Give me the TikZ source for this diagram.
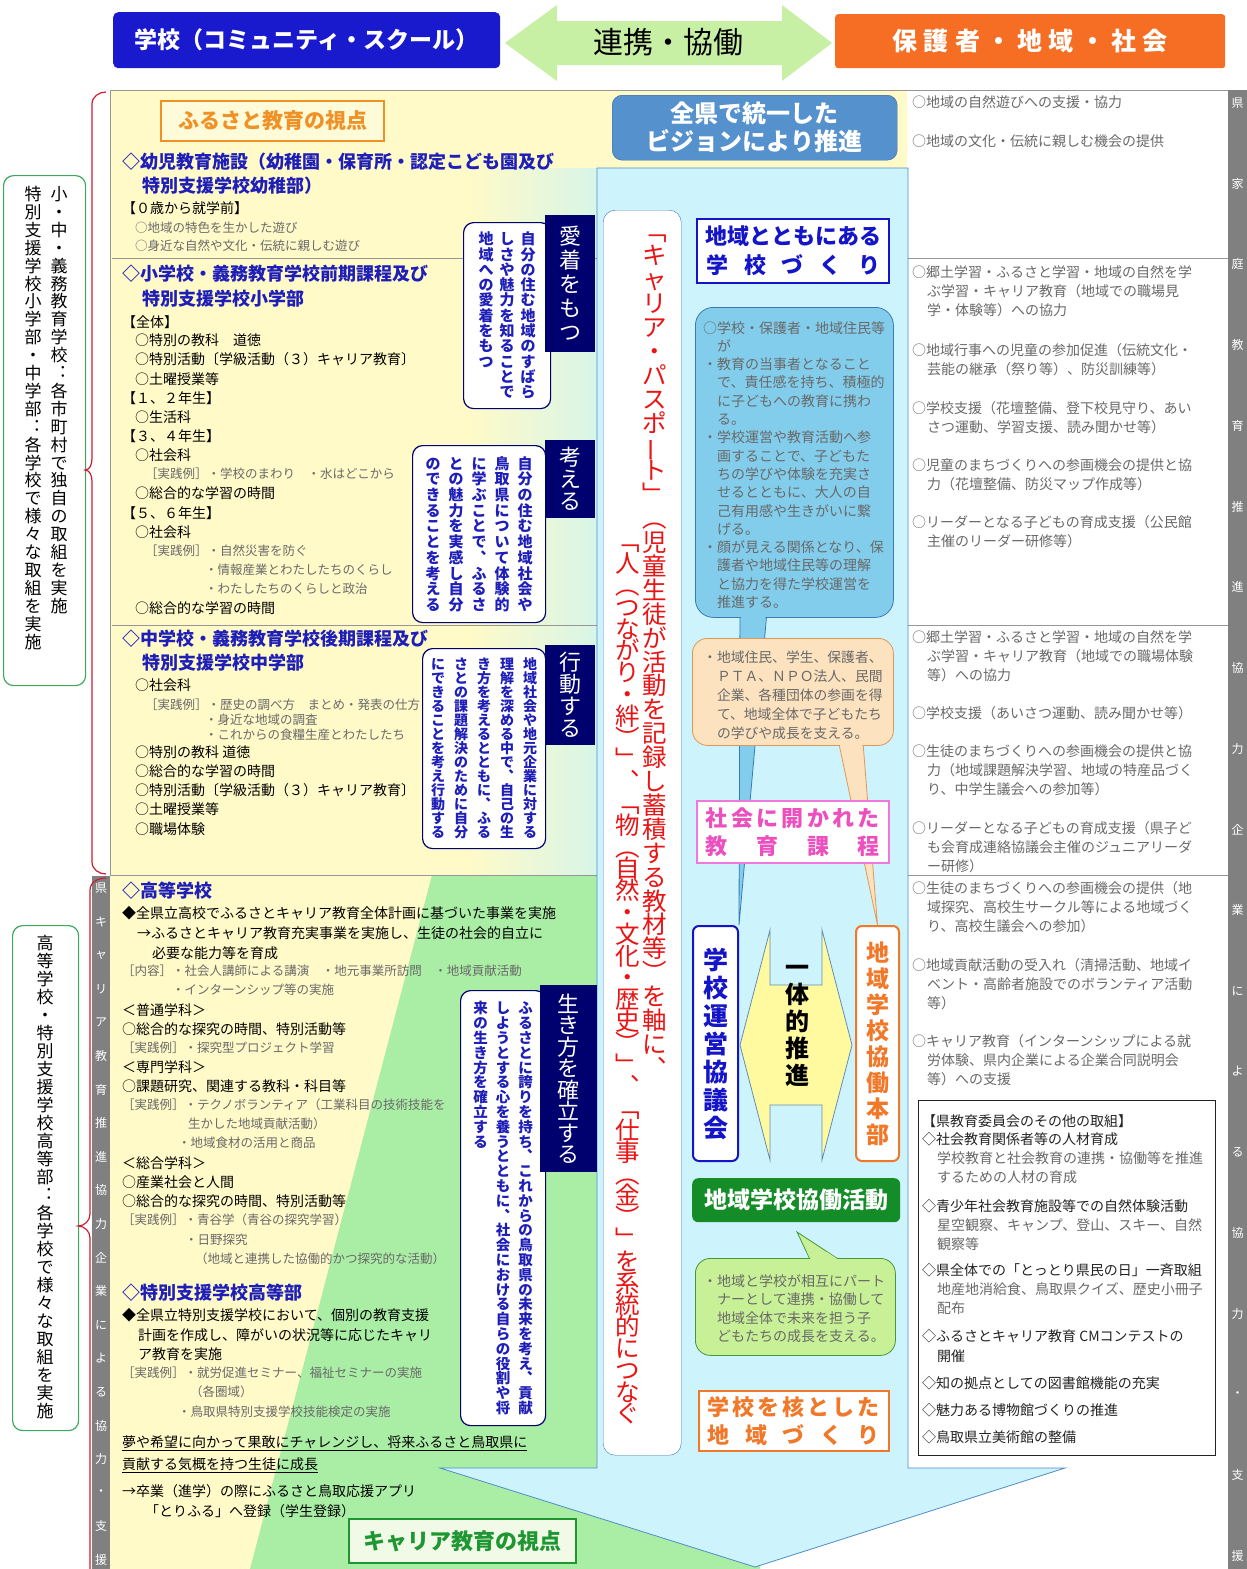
\documentclass[tikz,border=0pt]{standalone}
\usepackage{fontspec}
\setmainfont{Noto Sans CJK JP}
\usepackage{graphicx}
\definecolor{ybg}{RGB}{255,250,200}
\definecolor{cbg}{RGB}{215,245,232}
\definecolor{gbg}{RGB}{170,238,165}
\definecolor{cyanA}{RGB}{205,244,252}
\definecolor{cyanL}{RGB}{80,140,200}
\definecolor{topblue}{RGB}{25,25,205}
\definecolor{toporange}{RGB}{245,110,35}
\definecolor{arrgreen}{RGB}{200,240,165}
\definecolor{navy}{RGB}{0,0,110}
\definecolor{hblue}{RGB}{30,30,185}
\definecolor{steel}{RGB}{85,145,205}
\definecolor{steelD}{RGB}{55,100,160}
\definecolor{bubB}{RGB}{130,205,235}
\definecolor{bubBd}{RGB}{60,120,180}
\definecolor{bubO}{RGB}{252,226,190}
\definecolor{bubOd}{RGB}{225,150,90}
\definecolor{pinkD}{RGB}{240,120,220}
\definecolor{pinkT}{RGB}{235,80,190}
\definecolor{dgreen}{RGB}{20,140,40}
\definecolor{bubG}{RGB}{200,240,150}
\definecolor{bubGd}{RGB}{70,150,60}
\definecolor{orgD}{RGB}{240,120,40}
\definecolor{orgL}{RGB}{240,145,40}
\definecolor{redT}{RGB}{235,20,20}
\definecolor{grayT}{RGB}{105,105,105}
\definecolor{darkT}{RGB}{35,35,35}
\definecolor{strip}{RGB}{128,128,128}
\definecolor{gboxD}{RGB}{60,170,90}
\definecolor{gtxt}{RGB}{30,150,50}
\definecolor{brk}{RGB}{200,30,50}
\definecolor{sepL}{RGB}{150,150,150}
\definecolor{boxblue}{RGB}{20,20,200}
\makeatletter
\newdimen\vcw
\newcommand\vtxt[2]{\vtop{\baselineskip=#1\relax\lineskiplimit=-\maxdimen\lineskip=0pt\vcw=1em\relax\vt@x#2\relax}}
\def\vt@x#1{\ifx\relax#1\else\hbox to\vcw{\hss#1\hss}\expandafter\vt@x\fi}
\makeatother
\newcommand\VL{\rotatebox[origin=c]{90}{ー}}
\newcount\tlc
\newcommand\TL[4]{\global\advance\tlc by1\relax\node[#1] (t\the\tlc) at (#2,#3) {#4};}
\begin{document}
\begin{tikzpicture}[x=1pt,y=-1pt,
 tx/.style={anchor=west,inner sep=0pt,text=black,font=\fontsize{14}{16}\selectfont},
 gr/.style={tx,text=grayT,font=\fontsize{12.5}{15}\selectfont},
 hd/.style={tx,text=hblue,font=\fontsize{18}{21}\selectfont\bfseries},
 rc/.style={tx,text=grayT,font=\fontsize{14}{16}\selectfont},
 dk/.style={tx,text=darkT,font=\fontsize{14}{16}\selectfont},
 vt/.style={inner sep=0pt,anchor=north},
 tab/.style={fill=navy,inner sep=0pt,anchor=north west,text=white,font=\fontsize{22}{24}\selectfont},
 wbox/.style={draw=navy,line width=1.2pt,fill=white,rounded corners=10pt,inner sep=0pt,anchor=north west,text=hblue},
 gbox/.style={draw=gboxD,line width=1.2pt,fill=white,rounded corners=10pt,inner sep=0pt,anchor=north west},
 gtx/.style={inner sep=0pt,anchor=north,font=\fontsize{17}{17}\selectfont},
 gstr/.style={inner sep=0pt,text=white,font=\fontsize{12}{14}\selectfont},
 sep/.style={sepL,line width=0.8pt}]
\useasboundingbox (0,0) rectangle (1247,1569);
\fill[white] (0,0) rectangle (1247,1569);
% backgrounds
\fill[ybg] (110,90) rectangle (907,875);
\shade[left color=ybg,right color=cbg] (470,168) rectangle (600,875);
\fill[ybg] (110,875) rectangle (600,1569);
\fill[gbg] (432,875) -- (760,875) -- (760,1569) -- (250,1569) -- cycle;
% separators
\draw[sep] (110,90) -- (1228,90);
\draw[sep] (110,90) -- (110,875);
\draw[sep] (112,258) -- (600,258) (907,258) -- (1228,258);
\draw[sep] (112,625) -- (600,625) (907,625) -- (1228,625);
\draw[sep] (110,875) -- (600,875) (907,875) -- (1228,875);
% grey strips
\fill[strip] (92,876) rectangle (110,1569);
\fill[strip] (1228,90) rectangle (1247,1569);
\foreach \c [count=\i from 0] in {県,キ,ャ,リ,ア,教,育,推,進,協,力,企,業,に,よ,る,協,力,・,支,援}
  \node[gstr] (gl\i) at (101,888+\i*33.6) {\c};
\foreach \c [count=\i from 0] in {県,家,庭,教,育,推,進,協,力,企,業,に,よ,る,協,力,・,支,援}
  \node[gstr] (gr\i) at (1237.5,103+\i*80.7) {\c};
% top row
\node[fill=topblue,rounded corners=5pt,minimum width=387pt,minimum height=56pt,anchor=north west,inner sep=0pt,text=white,font=\fontsize{23}{26}\selectfont\bfseries] (school) at (113,12) {学校（コミュニティ・スクール）};
\node[fill=toporange,rounded corners=3pt,minimum width=390pt,minimum height=54pt,anchor=north west,inner sep=0pt,text=white,font=\fontsize{25}{28}\selectfont\bfseries\addfontfeature{LetterSpace=25}] (society) at (835,14) {保護者・地域・社会};
\fill[arrgreen] (505,43) -- (557,5) -- (557,21) -- (782,21) -- (782,5) -- (832,43) -- (782,81) -- (782,65) -- (557,65) -- (557,81) -- cycle;
\node[inner sep=0pt,font=\fontsize{30}{32}\selectfont] (renkei) at (668,42) {連携・協働};
% central arrow
\draw[cyanL,fill=cyanA,line width=0.8pt] (597,168) -- (908,168) -- (908,1468) -- (1065,1468) -- (755,1567) -- (440,1468) -- (597,1468) -- cycle;
% left brackets and green boxes
\node[gbox,minimum width=82pt,minimum height=510pt] (g1) at (3,175) {};
\node[gtx] (g1t) at (46,186) {\hbox{\vtxt{17.9pt}{特別支援学校小学部・中学部︓各学校で様々な取組を実施}\hskip9pt\vtxt{17.9pt}{小・中・義務教育学校︓各市町村で独自の取組を実施}}};
\node[gbox,minimum width=66pt,minimum height=505pt] (g2) at (12,925) {};
\node[gtx] (g2t) at (45,935) {\vtxt{18pt}{高等学校・特別支援学校高等部︓各学校で様々な取組を実施}};
\coordinate (p1) at (85,470);
\coordinate (p2) at (78,1226);
\draw[brk,line width=1.2pt] (106,92) to[out=180,in=90] (92,104) -- (92,458) to[out=270,in=0] (p1) to[out=0,in=90] (92,482) -- (92,862) to[out=270,in=180] (106,874);
\draw[brk,line width=1.2pt] (106,878) to[out=180,in=90] (90,890) -- (90,1214) to[out=270,in=0] (p2) to[out=0,in=90] (90,1238) -- (90,1569);
% left panel heading boxes
\node[draw=orgL,line width=2pt,fill={rgb,255:red,255;green,250;blue,215},minimum width=223pt,minimum height=40pt,anchor=north west,inner sep=0pt,text=orgL,font=\fontsize{21}{23}\selectfont\bfseries] (furu) at (160,100) {ふるさと教育の視点};
\node[draw=gtxt,line width=2pt,fill={rgb,255:red,240;green,250;blue,230},minimum width=227pt,minimum height=44pt,anchor=north west,inner sep=0pt,text=gtxt,font=\fontsize{22}{24}\selectfont\bfseries] (career) at (348,1518) {キャリア教育の視点};
% white boxes with vertical blue text
\node[wbox,minimum width=87pt,minimum height=186pt,font=\fontsize{15}{15}\selectfont\bfseries] (b1) at (463,222) {\hbox{\vtxt{15.3pt}{地域への愛着をもつ}\hskip6pt\vtxt{15.3pt}{しさや魅力を知ることで}\hskip6pt\vtxt{15.3pt}{自分の住む地域のすばら}}};
\node[wbox,minimum width=133pt,minimum height=177pt,font=\fontsize{15}{15}\selectfont\bfseries] (b2) at (412,445) {\hbox{\vtxt{15.7pt}{のできることを考える}\hskip8pt\vtxt{15.7pt}{との魅力を実感し自分}\hskip8pt\vtxt{15.7pt}{に学ぶことで︑ふるさ}\hskip8pt\vtxt{15.7pt}{鳥取県について体験的}\hskip8pt\vtxt{15.7pt}{自分の住む地域社会や}}};
\node[wbox,minimum width=123pt,minimum height=200pt,font=\fontsize{14}{14}\selectfont\bfseries] (b3) at (422,648) {\hbox{\vtxt{14pt}{にできることを考え行動する}\hskip9pt\vtxt{14pt}{さとの課題解決のために自分}\hskip9pt\vtxt{14pt}{き方を考えるとともに︑ふる}\hskip9pt\vtxt{14pt}{理解を深める中で︑自己の生}\hskip9pt\vtxt{14pt}{地域社会や地元企業に対する}}};
\node[wbox,minimum width=85pt,minimum height=435pt,font=\fontsize{14.5}{14.5}\selectfont\bfseries] (b4) at (460,990) {\hbox{\vtxt{14.8pt}{来の生き方を確立する}\hskip8pt\vtxt{14.8pt}{しようとする心を養うとともに︑社会における自らの役割や将}\hskip8pt\vtxt{14.8pt}{ふるさとに誇りを持ち︑これからの鳥取県の未来を考え︑貢献}}};
% navy tabs
\node[tab,minimum width=50pt,minimum height=137pt] (tab1) at (545,215) {\vtxt{24pt}{愛着をもつ}};
\node[tab,minimum width=50pt,minimum height=78pt] (tab2) at (545,440) {\vtxt{22pt}{考える}};
\node[tab,minimum width=50pt,minimum height=100pt] (tab3) at (545,645) {\vtxt{22pt}{行動する}};
\node[tab,minimum width=57pt,minimum height=187pt] (tab4) at (540,985) {\vtxt{21.5pt}{生き方を確立する}};
% left panel texts
\TL{hd}{122}{162}{◇幼児教育施設（幼稚園・保育所・認定こども園及び}
\TL{hd}{142}{186}{特別支援学校幼稚部）}
\TL{tx}{122}{208}{【０歳から就学前】}
\TL{gr}{135}{228}{○地域の特色を生かした遊び}
\TL{gr}{135}{246}{○身近な自然や文化・伝統に親しむ遊び}
\TL{hd}{122}{274}{◇小学校・義務教育学校前期課程及び}
\TL{hd}{142}{299}{特別支援学校小学部}
\TL{tx}{122}{322}{【全体】}
\TL{tx}{135}{340}{○特別の教科　道徳}
\TL{tx}{135}{359}{○特別活動〔学級活動（３）キャリア教育〕}
\TL{tx}{135}{379}{○土曜授業等}
\TL{tx}{122}{398}{【１、２年生】}
\TL{tx}{135}{417}{○生活科}
\TL{tx}{122}{436}{【３、４年生】}
\TL{tx}{135}{455}{○社会科}
\TL{gr}{145}{474}{［実践例］・学校のまわり　・水はどこから}
\TL{tx}{135}{493}{○総合的な学習の時間}
\TL{tx}{122}{513}{【５、６年生】}
\TL{tx}{135}{532}{○社会科}
\TL{gr}{145}{551}{［実践例］・自然災害を防ぐ}
\TL{gr}{205}{570}{・情報産業とわたしたちのくらし}
\TL{gr}{205}{589}{・わたしたちのくらしと政治}
\TL{tx}{135}{608}{○総合的な学習の時間}
\TL{hd}{122}{639}{◇中学校・義務教育学校後期課程及び}
\TL{hd}{142}{663}{特別支援学校中学部}
\TL{tx}{135}{685}{○社会科}
\TL{gr}{145}{705}{［実践例］・歴史の調べ方　まとめ・発表の仕方}
\TL{gr}{205}{720}{・身近な地域の調査}
\TL{gr}{205}{735}{・これからの食糧生産とわたしたち}
\TL{tx}{135}{752}{○特別の教科 道徳}
\TL{tx}{135}{771}{○総合的な学習の時間}
\TL{tx}{135}{790}{○特別活動〔学級活動（３）キャリア教育〕}
\TL{tx}{135}{809}{○土曜授業等}
\TL{tx}{135}{829}{○職場体験}
\TL{hd}{122}{891}{◇高等学校}
\TL{tx}{122}{913}{◆全県立高校でふるさとキャリア教育全体計画に基づいた事業を実施}
\TL{tx}{137}{933}{→ふるさとキャリア教育充実事業を実施し、生徒の社会的自立に}
\TL{tx}{152}{953}{必要な能力等を育成}
\TL{gr}{122}{971}{［内容］・社会人講師による講演　・地元事業所訪問　・地域貢献活動}
\TL{gr}{172}{990}{・インターンシップ等の実施}
\TL{tx}{122}{1010}{＜普通学科＞}
\TL{tx}{122}{1029}{○総合的な探究の時間、特別活動等}
\TL{gr}{122}{1048}{［実践例］・探究型プロジェクト学習}
\TL{tx}{122}{1067}{＜専門学科＞}
\TL{tx}{122}{1086}{○課題研究、関連する教科・科目等}
\TL{gr}{122}{1105}{［実践例］・テクノボランティア（工業科目の技術技能を}
\TL{gr}{188}{1124}{生かした地域貢献活動）}
\TL{gr}{178}{1143}{・地域食材の活用と商品}
\TL{tx}{122}{1163}{＜総合学科＞}
\TL{tx}{122}{1182}{○産業社会と人間}
\TL{tx}{122}{1201}{○総合的な探究の時間、特別活動等}
\TL{gr}{122}{1220}{［実践例］・青谷学（青谷の探究学習）}
\TL{gr}{185}{1240}{・日野探究}
\TL{gr}{195}{1259}{（地域と連携した協働的かつ探究的な活動）}
\TL{hd}{122}{1293}{◇特別支援学校高等部}
\TL{tx}{122}{1315}{◆全県立特別支援学校において、個別の教育支援}
\TL{tx}{138}{1335}{計画を作成し、障がいの状況等に応じたキャリ}
\TL{tx}{138}{1354}{ア教育を実施}
\TL{gr}{122}{1373}{［実践例］・就労促進セミナー、福祉セミナーの実施}
\TL{gr}{190}{1392}{（各圏域）}
\TL{gr}{178}{1412}{・鳥取県特別支援学校技能検定の実施}
\TL{tx}{122}{1443}{\underline{夢や希望に向かって果敢にチャレンジし、将来ふるさと鳥取県に}}
\TL{tx}{122}{1465}{\underline{貢献する気概を持つ生徒に成長}}
\TL{tx}{122}{1491}{→卒業（進学）の際にふるさと鳥取応援アプリ}
\TL{tx}{145}{1511}{「とりふる」へ登録（学生登録）}
% central column
\node[fill=steel,draw=steelD,rounded corners=10pt,minimum width=285pt,minimum height=65pt,anchor=north west,inner sep=0pt,text=white,font=\fontsize{24}{28}\selectfont\bfseries,align=center] (vision) at (612,95) {全県で統一した\\ビジョンにより推進};
\node[draw={rgb,255:red,70;green,120;blue,180},fill=white,rounded corners=12pt,minimum width=78pt,minimum height=1245pt,anchor=north west,inner sep=0pt] (redbox) at (603,210) {};
\node[vt,text=redT,font=\fontsize{24.5}{24.5}\selectfont] (red1) at (655,235) {\vtxt{23.9pt}{﹁キャリア・パスポ\VL ト﹂︵児童生徒が活動を記録し蓄積する教材等︶を軸に︑}};
\node[vt,text=redT,font=\fontsize{24.5}{24.5}\selectfont] (red2) at (628,545) {\vtxt{21.8pt}{﹁人︵つながり・絆︶﹂︑﹁物︵自然・文化・歴史︶﹂︑﹁仕事︵金︶﹂を系統的につなぐ}};
\node[draw=boxblue,line width=2pt,fill=white,minimum width=192pt,minimum height=64pt,anchor=north west,inner sep=0pt,text=boxblue,font=\fontsize{22}{29}\selectfont\bfseries,align=center] (chiiki) at (696,218) {地域とともにある\\\makebox[174pt][s]{学\hfil 校\hfil づ\hfil く\hfil り}};
% bottom boxes of centre (drawn before tails)
\node[draw=boxblue,line width=2pt,fill=white,rounded corners=6pt,minimum width=45pt,minimum height=235pt,anchor=north west,inner sep=0pt,text=boxblue,font=\fontsize{25}{25}\selectfont\bfseries] (unei) at (692,925) {\vtxt{28pt}{学校運営協議会}};
\node[draw=orgD,line width=2pt,fill=white,rounded corners=6pt,minimum width=43pt,minimum height=235pt,anchor=north west,inner sep=0pt,text=orgD,font=\fontsize{23}{23}\selectfont\bfseries] (honbu) at (855,925) {\vtxt{26pt}{地域学校協働本部}};
% blue bubble
\draw[bubBd,fill=bubB,line width=0.8pt] (740,600) -- (768,600) -- (unei.north east) -- cycle;
\node[draw=bubBd,fill=bubB,line width=0.8pt,rounded corners=18pt,minimum width=198pt,minimum height=310pt,anchor=north west,inner sep=0pt] (bubbleB) at (695,307) {};
\begin{scope}\clip (730,611) rectangle (780,623); \fill[bubB] (741,600) -- (767,600) -- (unei.north east) -- cycle; \end{scope}
\node[anchor=north west,inner sep=0pt,align=left,text=grayT,font=\fontsize{14}{18.3}\selectfont] (bubbleBt) at (703,321) {○学校・保護者・地域住民等\\\hspace*{1em}が\\・教育の当事者となること\\\hspace*{1em}で、責任感を持ち、積極的\\\hspace*{1em}に子どもへの教育に携わ\\\hspace*{1em}る。\\・学校運営や教育活動へ参\\\hspace*{1em}画することで、子どもた\\\hspace*{1em}ちの学びや体験を充実さ\\\hspace*{1em}せるとともに、大人の自\\\hspace*{1em}己有用感や生きがいに繋\\\hspace*{1em}げる。\\・顔が見える関係となり、保\\\hspace*{1em}護者や地域住民等の理解\\\hspace*{1em}と協力を得た学校運営を\\\hspace*{1em}推進する。};
% orange bubble
\draw[bubOd,fill=bubO,line width=0.8pt] (836,730) -- (862,730) -- (honbu.north) -- cycle;
\node[draw=bubOd,fill=bubO,line width=0.8pt,rounded corners=15pt,minimum width=201pt,minimum height=107pt,anchor=north west,inner sep=0pt] (bubbleO) at (692,638) {};
\begin{scope}\clip (826,739) rectangle (876,751); \fill[bubO] (837,730) -- (861,730) -- (honbu.north) -- cycle; \end{scope}
\node[anchor=north west,inner sep=0pt,align=left,text=grayT,font=\fontsize{13.8}{19}\selectfont] (bubbleOt) at (703,651) {・地域住民、学生、保護者、\\\hspace*{1em}ＰＴＡ、ＮＰＯ法人、民間\\\hspace*{1em}企業、各種団体の参画を得\\\hspace*{1em}て、地域全体で子どもたち\\\hspace*{1em}の学びや成長を支える。};
% pink box
\node[draw=pinkD,line width=1.5pt,fill=white,minimum width=192pt,minimum height=62pt,anchor=north west,inner sep=0pt,text=pinkT,font=\fontsize{22}{28}\selectfont\bfseries,align=center] (shakai) at (696,800) {\makebox[174pt][s]{社\hfil 会\hfil に\hfil 開\hfil か\hfil れ\hfil た}\\\makebox[174pt][s]{教\hfil 育\hfil 課\hfil 程}};
% yellow double arrow
\draw[fill={rgb,255:red,255;green,250;blue,160},draw={rgb,255:red,100;green,140;blue,180},line width=0.8pt] (740,1045) -- (770,930) -- (770,985) -- (822,985) -- (822,930) -- (852,1045) -- (822,1160) -- (822,1105) -- (770,1105) -- (770,1160) -- cycle;
\node[vt,font=\fontsize{24}{24}\selectfont\bfseries] (ittai) at (797,965) {\vtxt{27pt}{一体的推進}};
% green box and bubble
\node[fill=dgreen,rounded corners=6pt,minimum width=208pt,minimum height=44pt,anchor=north west,inner sep=0pt,text=white,font=\fontsize{23}{25}\selectfont\bfseries] (katsudo) at (692,1178) {地域学校協働活動};
\coordinate (gtip) at (797,1232);
\draw[bubGd,fill=bubG,line width=0.8pt] (815,1270) -- (855,1270) -- (gtip) -- cycle;
\node[draw=bubGd,fill=bubG,line width=0.8pt,rounded corners=15pt,minimum width=200pt,minimum height=97pt,anchor=north west,inner sep=0pt] (bubbleG) at (695,1258) {};
\begin{scope}\clip (805,1252) rectangle (865,1264); \fill[bubG] (816,1270) -- (854,1270) -- (gtip) -- cycle; \end{scope}
\node[anchor=north west,inner sep=0pt,align=left,text=grayT,font=\fontsize{14}{18.5}\selectfont] (bubbleGt) at (703,1274) {・地域と学校が相互にパート\\\hspace*{1em}ナーとして連携・協働して\\\hspace*{1em}地域全体で未来を担う子\\\hspace*{1em}どもたちの成長を支える。};
\node[draw=orgD,line width=1.5pt,fill=white,minimum width=190pt,minimum height=60pt,anchor=north west,inner sep=0pt,text=orgD,font=\fontsize{22}{28}\selectfont\bfseries,align=center] (kaku) at (698,1390) {\makebox[172pt][s]{学\hfil 校\hfil を\hfil 核\hfil と\hfil し\hfil た}\\\makebox[172pt][s]{地\hfil 域\hfil づ\hfil く\hfil り}};
% right column
\TL{rc}{912}{102}{○地域の自然遊びへの支援・協力}
\TL{rc}{912}{141}{○地域の文化・伝統に親しむ機会の提供}
\TL{rc}{912}{272}{○郷土学習・ふるさと学習・地域の自然を学}
\TL{rc}{927}{291}{ぶ学習・キャリア教育（地域での職場見}
\TL{rc}{927}{310}{学・体験等）への協力}
\TL{rc}{912}{350}{○地域行事への児童の参加促進（伝統文化・}
\TL{rc}{927}{369}{芸能の継承（祭り等）、防災訓練等）}
\TL{rc}{912}{408}{○学校支援（花壇整備、登下校見守り、あい}
\TL{rc}{927}{427}{さつ運動、学習支援、読み聞かせ等）}
\TL{rc}{912}{465}{○児童のまちづくりへの参画機会の提供と協}
\TL{rc}{927}{484}{力（花壇整備、防災マップ作成等）}
\TL{rc}{912}{522}{○リーダーとなる子どもの育成支援（公民館}
\TL{rc}{927}{541}{主催のリーダー研修等）}
\TL{rc}{912}{637}{○郷土学習・ふるさと学習・地域の自然を学}
\TL{rc}{927}{656}{ぶ学習・キャリア教育（地域での職場体験}
\TL{rc}{927}{675}{等）への協力}
\TL{rc}{912}{713}{○学校支援（あいさつ運動、読み聞かせ等）}
\TL{rc}{912}{751}{○生徒のまちづくりへの参画機会の提供と協}
\TL{rc}{927}{770}{力（地域課題解決学習、地域の特産品づく}
\TL{rc}{927}{789}{り、中学生議会への参加等）}
\TL{rc}{912}{828}{○リーダーとなる子どもの育成支援（県子ど}
\TL{rc}{927}{847}{も会育成連絡協議会主催のジュニアリーダ}
\TL{rc}{927}{866}{ー研修）}
\TL{rc}{912}{888}{○生徒のまちづくりへの参画機会の提供（地}
\TL{rc}{927}{907}{域探究、高校生サークル等による地域づく}
\TL{rc}{927}{926}{り、高校生議会への参加）}
\TL{rc}{912}{965}{○地域貢献活動の受入れ（清掃活動、地域イ}
\TL{rc}{927}{984}{ベント・高齢者施設でのボランティア活動}
\TL{rc}{927}{1003}{等）}
\TL{rc}{912}{1041}{○キャリア教育（インターンシップによる就}
\TL{rc}{927}{1060}{労体験、県内企業による企業合同説明会}
\TL{rc}{927}{1079}{等）への支援}
\node[draw=darkT,line width=0.8pt,minimum width=297pt,minimum height=355pt,anchor=north west,inner sep=0pt] (other) at (918,1100) {};
\TL{dk}{922}{1121}{【県教育委員会のその他の取組】}
\TL{dk}{922}{1139}{◇社会教育関係者等の人材育成}
\TL{rc}{937}{1158}{学校教育と社会教育の連携・協働等を推進}
\TL{rc}{937}{1177}{するための人材の育成}
\TL{dk}{922}{1206}{◇青少年社会教育施設等での自然体験活動}
\TL{rc}{937}{1225}{星空観察、キャンプ、登山、スキー、自然}
\TL{rc}{937}{1244}{観察等}
\TL{dk}{922}{1270}{◇県全体での「とっとり県民の日」一斉取組}
\TL{rc}{937}{1289}{地産地消給食、鳥取県クイズ、歴史小冊子}
\TL{rc}{937}{1308}{配布}
\TL{dk}{922}{1336}{◇ふるさとキャリア教育 CMコンテストの}
\TL{dk}{937}{1356}{開催}
\TL{dk}{922}{1383}{◇知の拠点としての図書館機能の充実}
\TL{dk}{922}{1410}{◇魅力ある博物館づくりの推進}
\TL{dk}{922}{1437}{◇鳥取県立美術館の整備}
\end{tikzpicture}
\end{document}
